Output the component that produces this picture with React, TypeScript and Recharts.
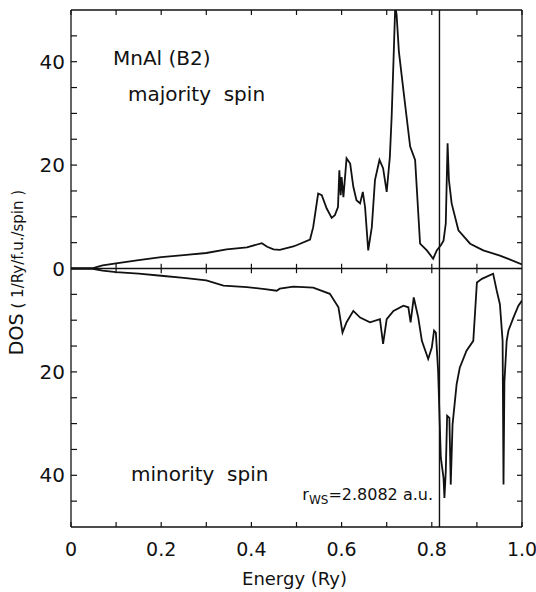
import React from "react";
import { LineChart, Line, XAxis, YAxis, ReferenceLine } from "recharts";

// majority spin DOS (upper panel)
const majorityEnergy = [
  0, 0.045, 0.07, 0.1, 0.15, 0.2, 0.25, 0.3, 0.345, 0.39, 0.423, 0.435, 0.449, 0.463, 0.493, 0.5, 0.53, 0.537,
  0.548, 0.556, 0.567, 0.578, 0.585, 0.592, 0.595, 0.598, 0.6, 0.604, 0.611, 0.619, 0.626, 0.633, 0.641, 0.647,
  0.652, 0.659, 0.667, 0.674, 0.684, 0.692, 0.7, 0.707, 0.711, 0.715, 0.719, 0.722, 0.727, 0.729, 0.731, 0.735,
  0.744, 0.752, 0.763, 0.774, 0.789, 0.803, 0.811, 0.82, 0.826, 0.831, 0.835, 0.838, 0.844, 0.859, 0.885, 0.914,
  0.951, 1.0,
];
const majorityDos = [
  0, 0, 0.6, 1.0, 1.6, 2.2, 2.6, 3.0, 3.7, 4.1, 4.9, 4.2, 3.7, 3.6, 4.3, 4.5, 5.6, 8.0,
  14.5, 14.2, 11.6, 9.8, 10.3, 11.9, 19.0, 14.2, 17.7, 13.8, 21.3, 20.3, 15.8, 13.2, 12.6, 14.8,
  11.9, 3.5, 8.0, 17.1, 21.0, 19.4, 14.8, 21.6, 29.4, 40, 51, 49, 42, 40.5, 39, 36,
  29.4, 23.6, 21, 4.8, 3.5, 1.9, 3.5, 4.5, 5.4, 8.7, 24.2, 17.1, 12.6, 7.4, 4.8, 3.5,
  2.5, 0.8,
];

// minority spin DOS (lower panel, drawn downwards)
const minorityEnergy = [
  0, 0.045, 0.07, 0.1, 0.15, 0.2, 0.25, 0.3, 0.338, 0.39, 0.43, 0.456, 0.463, 0.493, 0.537, 0.574, 0.593, 0.602,
  0.611, 0.626, 0.641, 0.663, 0.685, 0.692, 0.7, 0.715, 0.737, 0.748, 0.753, 0.76, 0.77, 0.778, 0.792, 0.8,
  0.805, 0.809, 0.814, 0.82, 0.826, 0.828, 0.831, 0.834, 0.839, 0.842, 0.846, 0.855, 0.862, 0.877, 0.892, 0.9,
  0.911, 0.936, 0.944, 0.951, 0.957, 0.959, 0.961, 0.966, 0.97, 0.981, 0.992, 1.0,
];
const minorityDos = [
  0, 0, 0.4, 0.7, 1.0, 1.4, 1.8, 2.3, 3.3, 3.6, 4.0, 4.3, 3.9, 3.5, 3.7, 4.9, 7.5, 12.4,
  10.4, 8.2, 9.5, 10.4, 9.8, 14.6, 9.8, 8.2, 7.2, 7.5, 10.4, 5.6, 9.5, 14.0, 17.5, 15.3,
  12.0, 12.4, 19.8, 36.6, 40.5, 44.4, 39.2, 28.5, 28.9, 41.8, 30.2, 22.4, 19.2, 15.9, 14.0, 2.7,
  2.0, 1.0, 4.3, 6.9, 14.0, 41.8, 22.0, 14.0, 12.0, 9.5, 7.2, 6.2,
];

const fermiEnergy = 0.817;

const energyTicks = [0, 0.1, 0.2, 0.3, 0.4, 0.5, 0.6, 0.7, 0.8, 0.9, 1.0];
const energyLabels = [0, 0.2, 0.4, 0.6, 0.8, 1.0];
const innerEnergyTicks = [0.1, 0.2, 0.3, 0.4, 0.5, 0.6, 0.7, 0.8, 0.9];
const dosTicks = [-45, -40, -35, -30, -25, -20, -15, -10, -5, 0, 5, 10, 15, 20, 25, 30, 35, 40, 45];
const dosLabels = [-40, -20, 0, 20, 40];

const majorityData = majorityEnergy.map((e, i) => ({ e, dos: majorityDos[i] }));
const minorityData = minorityEnergy.map((e, i) => ({ e, dos: -minorityDos[i] }));

const FONT = "'DejaVu Sans', sans-serif";
const INK = "#111";

const fmtEnergy = (v: number) => (v === 0 ? "0" : v.toFixed(1));

const BottomTick = ({ x, y, payload }: any) => {
  const v = payload.value;
  return (
    <g>
      <line x1={x} x2={x} y1={y} y2={y - 5} stroke={INK} strokeWidth={1.2} />
      {energyLabels.includes(v) && (
        <text x={x} y={y + 29} textAnchor="middle" fontSize={19} fontFamily={FONT} fill={INK}>
          {fmtEnergy(v)}
        </text>
      )}
    </g>
  );
};

const TopTick = ({ x, y }: any) => (
  <line x1={x} x2={x} y1={y} y2={y + 5} stroke={INK} strokeWidth={1.2} />
);

const LeftTick = ({ x, y, payload }: any) => {
  const v = payload.value;
  return (
    <g>
      <line x1={x} x2={x + 6} y1={y} y2={y} stroke={INK} strokeWidth={1.2} />
      {dosLabels.includes(v) && (
        <text x={x - 6} y={y + 7} textAnchor="end" fontSize={20} fontFamily={FONT} fill={INK}>
          {Math.abs(v)}
        </text>
      )}
    </g>
  );
};

const RightTick = ({ x, y }: any) => (
  <line x1={x} x2={x - 5} y1={y} y2={y} stroke={INK} strokeWidth={1.2} />
);

const EnergyLabel = ({ viewBox }: any) => (
  <text
    x={viewBox.x + viewBox.width / 2 - 2}
    y={viewBox.y + 58}
    textAnchor="middle"
    fontSize={18}
    fontFamily={FONT}
    fill={INK}
  >
    Energy (Ry)
  </text>
);

const DosLabel = ({ viewBox }: any) => {
  const cx = 23;
  const cy = viewBox.y + viewBox.height / 2 + 4;
  return (
    <text
      x={cx}
      y={cy}
      transform={`rotate(-90 ${cx} ${cy})`}
      textAnchor="middle"
      fontFamily={FONT}
      fill={INK}
    >
      <tspan fontSize={19}>DOS</tspan>
      <tspan fontSize={15} dx={5}>( 1/Ry/f.u./spin )</tspan>
    </text>
  );
};

const note = (left: number, top: number, size: number): React.CSSProperties => ({
  position: "absolute",
  left,
  top,
  fontSize: size,
  fontFamily: FONT,
  color: INK,
  lineHeight: 1,
  whiteSpace: "pre",
});

export default function App() {
  return (
    <div style={{ position: "absolute", left: 0, top: 0, width: 536, height: 592, background: "#fff" }}>
      <LineChart width={536} height={592} margin={{ top: 4, right: 8, bottom: 0, left: 0 }}>
        <XAxis
          xAxisId="bottom"
          dataKey="e"
          type="number"
          domain={[0, 1]}
          ticks={energyTicks}
          allowDataOverflow
          height={65}
          tickSize={0}
          tickMargin={0}
          tickLine={false}
          axisLine={{ stroke: INK, strokeWidth: 1.3 }}
          tick={<BottomTick />}
          interval={0}
          label={<EnergyLabel />}
        />
        <XAxis
          xAxisId="top"
          orientation="top"
          dataKey="e"
          type="number"
          domain={[0, 1]}
          ticks={energyTicks}
          allowDataOverflow
          height={6}
          tickSize={0}
          tickMargin={0}
          tickLine={false}
          axisLine={{ stroke: INK, strokeWidth: 1.3 }}
          tick={<TopTick />}
          interval={0}
        />
        <YAxis
          yAxisId="left"
          type="number"
          domain={[-50, 50]}
          ticks={dosTicks}
          allowDataOverflow
          width={71}
          tickSize={0}
          tickMargin={0}
          tickLine={false}
          axisLine={{ stroke: INK, strokeWidth: 1.3 }}
          tick={<LeftTick />}
          interval={0}
          label={<DosLabel />}
        />
        <YAxis
          yAxisId="right"
          orientation="right"
          type="number"
          domain={[-50, 50]}
          ticks={dosTicks}
          allowDataOverflow
          width={6}
          tickSize={0}
          tickMargin={0}
          tickLine={false}
          axisLine={{ stroke: INK, strokeWidth: 1.3 }}
          tick={<RightTick />}
          interval={0}
        />
        <ReferenceLine xAxisId="bottom" yAxisId="left" y={0} stroke={INK} strokeWidth={1.5} />
        {innerEnergyTicks.map((t) => (
          <ReferenceLine
            key={t}
            xAxisId="bottom"
            yAxisId="left"
            segment={[
              { x: t, y: -0.9 },
              { x: t, y: 0.9 },
            ]}
            stroke={INK}
            strokeWidth={1.2}
          />
        ))}
        <ReferenceLine xAxisId="bottom" yAxisId="left" x={fermiEnergy} stroke={INK} strokeWidth={1.4} />
        <Line
          xAxisId="bottom"
          yAxisId="left"
          data={majorityData}
          dataKey="dos"
          type="linear"
          stroke={INK}
          strokeWidth={1.8}
          dot={false}
          isAnimationActive={false}
        />
        <Line
          xAxisId="bottom"
          yAxisId="left"
          data={minorityData}
          dataKey="dos"
          type="linear"
          stroke={INK}
          strokeWidth={1.8}
          dot={false}
          isAnimationActive={false}
        />
      </LineChart>
      <div style={note(113, 48, 20)}>MnAl (B2)</div>
      <div style={note(128, 84, 20)}>majority  spin</div>
      <div style={note(131, 464, 20)}>minority  spin</div>
      <div style={{ ...note(0, 487, 16), left: "auto", right: 103 }}>
        r<sub style={{ fontSize: 12, verticalAlign: "-4px" }}>WS</sub>=2.8082 a.u.
      </div>
    </div>
  );
}
